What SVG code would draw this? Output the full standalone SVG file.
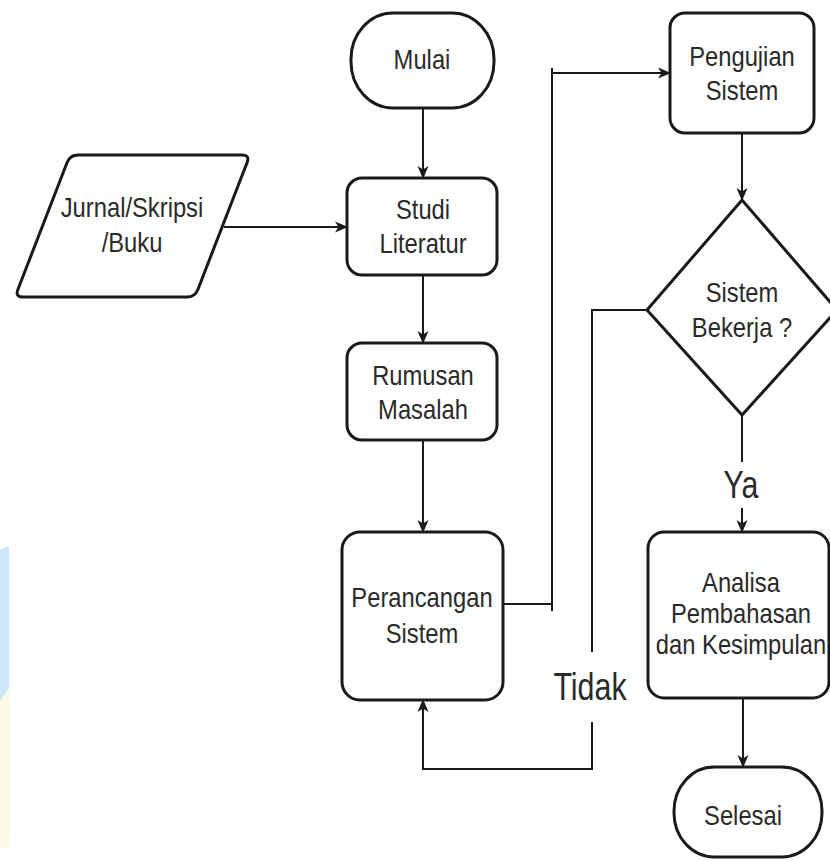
<svg xmlns="http://www.w3.org/2000/svg" width="830" height="861" viewBox="0 0 830 861">
  <style>
    .node { fill: #ffffff; stroke: #1a1a1a; stroke-width: 3; }
    .edge { fill: none; stroke: #1a1a1a; stroke-width: 2; }
    .lbl { font-family: "Liberation Sans", Arial, sans-serif; font-size: 27px; fill: #2a2a2a; text-anchor: middle; }
    .big { font-family: "Liberation Sans", Arial, sans-serif; font-size: 38px; fill: #2a2a2a; text-anchor: middle; }
  </style>
  <defs>
    <marker id="arrow" markerUnits="userSpaceOnUse" markerWidth="13" markerHeight="12" viewBox="0 0 13 12" refX="12" refY="6" orient="auto">
      <path d="M0,0.5 L13,6 L0,11.5 L3.5,6 z" fill="#1a1a1a"/>
    </marker>
  </defs>

  <rect width="830" height="861" fill="#ffffff"/>

  <!-- faint background strip at the left edge -->
  <path d="M0,550 L9,546 L9,688 Q5,694 0,702 Z" fill="#cde6fb"/>
  <path d="M0,702 Q5,694 9,688 L9,846 L0,850 Z" fill="#fdf9e4"/>

  <g id="connectors">
    <path class="edge" d="M423,108 V178" marker-end="url(#arrow)"/>
    <path class="edge" d="M224,227 H347" marker-end="url(#arrow)"/>
    <path class="edge" d="M423,275 V343" marker-end="url(#arrow)"/>
    <path class="edge" d="M423,440 V532" marker-end="url(#arrow)"/>
    <path class="edge" d="M503,604 H552 M552,611 V68 M552,73 H670" marker-end="url(#arrow)"/>
    <path class="edge" d="M742,133 V200" marker-end="url(#arrow)"/>
    <path class="edge" d="M742,415 V462 M742,508 V532" marker-end="url(#arrow)"/>
    <path class="edge" d="M647,310 H592 V652 M592,722 V769 H423 V700" marker-end="url(#arrow)"/>
    <path class="edge" d="M743,698 V767" marker-end="url(#arrow)"/>
    <text class="big" transform="translate(741 498) scale(0.8 1)">Ya</text>
    <text class="big" transform="translate(590 700) scale(0.8 1)">Tidak</text>
  </g>

  <g id="mulai">
    <rect class="node" x="351" y="13" width="143" height="95" rx="42" ry="46"/>
    <text class="lbl" transform="translate(422 69) scale(0.88 1)">Mulai</text>
  </g>

  <g id="jurnal">
    <path class="node" d="M78,155 L242,155 Q250,155 247.1,162.5 L197.9,289.5 Q195,297 187,297 L23,297 Q15,297 17.9,289.5 L67.1,162.5 Q70,155 78,155 Z"/>
    <text class="lbl" transform="translate(132 217) scale(0.88 1)">Jurnal/Skripsi</text>
    <text class="lbl" transform="translate(132 252) scale(0.88 1)">/Buku</text>
  </g>

  <g id="studi">
    <rect class="node" x="347" y="178" width="150" height="97" rx="15"/>
    <text class="lbl" transform="translate(423 219) scale(0.88 1)">Studi</text>
    <text class="lbl" transform="translate(423 253) scale(0.88 1)">Literatur</text>
  </g>

  <g id="rumusan">
    <rect class="node" x="347" y="343" width="150" height="97" rx="15"/>
    <text class="lbl" transform="translate(423 385) scale(0.88 1)">Rumusan</text>
    <text class="lbl" transform="translate(423 419) scale(0.88 1)">Masalah</text>
  </g>

  <g id="perancangan">
    <rect class="node" x="342" y="532" width="161" height="168" rx="18"/>
    <text class="lbl" transform="translate(422 607) scale(0.88 1)">Perancangan</text>
    <text class="lbl" transform="translate(422 643) scale(0.88 1)">Sistem</text>
  </g>

  <g id="pengujian">
    <rect class="node" x="670" y="13" width="144" height="120" rx="15"/>
    <text class="lbl" transform="translate(742 66) scale(0.88 1)">Pengujian</text>
    <text class="lbl" transform="translate(742 100) scale(0.88 1)">Sistem</text>
  </g>

  <g id="keputusan">
    <path class="node" d="M742,200 L837,310 L742,415 L647,310 Z" stroke-linejoin="miter"/>
    <text class="lbl" transform="translate(742 302) scale(0.88 1)">Sistem</text>
    <text class="lbl" transform="translate(742 337) scale(0.88 1)">Bekerja ?</text>
  </g>

  <g id="analisa">
    <rect class="node" x="648" y="532" width="181" height="166" rx="16"/>
    <text class="lbl" transform="translate(741 592) scale(0.88 1)">Analisa</text>
    <text class="lbl" transform="translate(741 623) scale(0.88 1)">Pembahasan</text>
    <text class="lbl" transform="translate(741 654) scale(0.88 1)">dan Kesimpulan</text>
  </g>

  <g id="selesai">
    <rect class="node" x="674" y="767" width="148" height="90" rx="40" ry="44"/>
    <text class="lbl" transform="translate(743 825) scale(0.88 1)">Selesai</text>
  </g>
</svg>
